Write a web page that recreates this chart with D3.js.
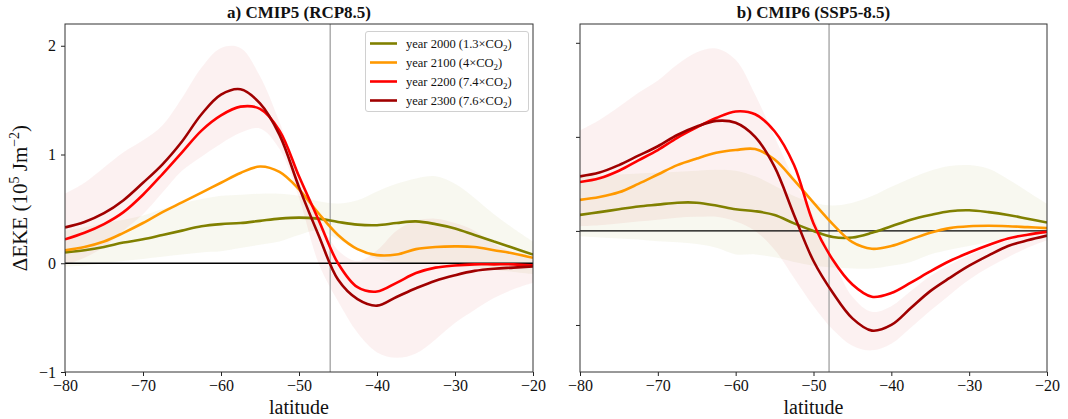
<!DOCTYPE html>
<html>
<head>
<meta charset="utf-8">
<script src="https://cdn.jsdelivr.net/npm/d3@7"></script>
<style>
  body { margin: 0; background: #fff; }
  svg { display: block; }
  text { font-family: "Liberation Serif", "DejaVu Serif", serif; fill: #111; }
</style>
</head>
<body>
<svg id="chart" width="1068" height="419"></svg>
<script>
// ---------------- DATA ----------------
const latitudes = [-80,-77.5,-75,-72.5,-70,-67.5,-65,-62.5,-60,-57.5,-55,-52.5,-50,-47.5,-45,-42.5,-40,-37.5,-35,-32.5,-30,-27.5,-25,-22.5,-20];

// Panel a) CMIP5 (RCP8.5)
const cmip5_y2000 = [0.10,0.12,0.15,0.19,0.22,0.26,0.30,0.34,0.36,0.37,0.39,0.41,0.42,0.41,0.38,0.355,0.35,0.37,0.385,0.36,0.32,0.26,0.20,0.14,0.08];
const cmip5_y2100 = [0.12,0.15,0.20,0.28,0.37,0.47,0.56,0.65,0.74,0.83,0.89,0.84,0.68,0.46,0.26,0.13,0.075,0.08,0.13,0.15,0.155,0.15,0.12,0.09,0.05];
const cmip5_y2200 = [0.22,0.28,0.36,0.47,0.63,0.82,1.02,1.22,1.36,1.44,1.42,1.22,0.80,0.40,0.0,-0.22,-0.26,-0.18,-0.09,-0.04,-0.02,-0.01,-0.01,-0.01,-0.02];
const cmip5_y2300 = [0.33,0.38,0.46,0.58,0.74,0.91,1.12,1.37,1.55,1.60,1.47,1.18,0.70,0.26,-0.15,-0.33,-0.39,-0.31,-0.23,-0.16,-0.11,-0.07,-0.05,-0.04,-0.03];
const cmip5_y2000_lo = [-0.03,-0.02,0.0,0.02,0.04,0.06,0.08,0.10,0.11,0.14,0.17,0.20,0.26,0.30,0.22,0.12,0.04,0.01,0.0,-0.01,-0.02,-0.04,-0.06,-0.08,-0.10];
const cmip5_y2000_hi = [0.30,0.33,0.37,0.40,0.44,0.50,0.55,0.59,0.62,0.63,0.64,0.64,0.62,0.57,0.55,0.58,0.66,0.73,0.78,0.80,0.73,0.60,0.45,0.32,0.20];
const cmip5_y2300_lo = [-0.02,0.05,0.15,0.30,0.45,0.65,0.85,0.98,1.10,1.20,1.24,1.05,0.60,0.0,-0.35,-0.64,-0.82,-0.87,-0.83,-0.70,-0.55,-0.43,-0.32,-0.24,-0.18];
const cmip5_y2300_hi = [0.64,0.74,0.88,1.02,1.13,1.27,1.52,1.80,1.98,1.98,1.72,1.30,0.80,0.42,0.12,0.02,0.12,0.30,0.39,0.41,0.37,0.30,0.18,0.10,0.05];

// Panel b) CMIP6 (SSP5-8.5)
const cmip6_y2000 = [0.17,0.20,0.23,0.26,0.28,0.30,0.30,0.27,0.23,0.21,0.17,0.08,0.0,-0.065,-0.07,-0.02,0.05,0.12,0.17,0.21,0.22,0.20,0.17,0.13,0.09];
const cmip6_y2100 = [0.33,0.36,0.41,0.50,0.60,0.70,0.77,0.83,0.86,0.87,0.76,0.54,0.30,0.07,-0.12,-0.19,-0.16,-0.09,-0.02,0.03,0.05,0.055,0.05,0.04,0.03];
const cmip6_y2200 = [0.52,0.56,0.64,0.75,0.86,0.99,1.10,1.20,1.27,1.24,1.06,0.70,0.08,-0.31,-0.57,-0.70,-0.66,-0.55,-0.43,-0.32,-0.23,-0.15,-0.08,-0.04,-0.01];
const cmip6_y2300 = [0.58,0.62,0.70,0.80,0.90,1.02,1.11,1.17,1.15,1.00,0.68,0.17,-0.32,-0.66,-0.93,-1.06,-1.00,-0.82,-0.64,-0.50,-0.37,-0.26,-0.16,-0.10,-0.05];
const cmip6_y2000_lo = [-0.06,-0.07,-0.08,-0.09,-0.11,-0.12,-0.14,-0.18,-0.25,-0.25,-0.28,-0.33,-0.37,-0.39,-0.40,-0.40,-0.37,-0.33,-0.25,-0.20,-0.16,-0.12,-0.09,-0.05,-0.03];
const cmip6_y2000_hi = [0.58,0.59,0.60,0.61,0.62,0.63,0.64,0.65,0.64,0.58,0.48,0.37,0.30,0.27,0.30,0.37,0.47,0.56,0.64,0.69,0.70,0.66,0.55,0.42,0.29];
const cmip6_y2300_lo = [0.05,0.06,0.08,0.10,0.12,0.14,0.15,0.15,0.10,0.0,-0.20,-0.50,-0.80,-1.05,-1.22,-1.27,-1.20,-1.03,-0.85,-0.68,-0.52,-0.39,-0.28,-0.18,-0.10];
const cmip6_y2300_hi = [1.07,1.18,1.32,1.47,1.60,1.77,1.90,1.94,1.82,1.45,1.00,0.55,0.15,-0.30,-0.70,-0.86,-0.80,-0.64,-0.48,-0.36,-0.26,-0.17,-0.10,-0.04,-0.01];

const xTicks = [-80,-70,-60,-50,-40,-30,-20];
const yTicks = [-1,0,1,2];
const seriesNames = ["year 2000", "year 2100", "year 2200", "year 2300"];
const co2Factors = ["1.3", "4", "7.4", "7.6"];
const seriesColors = ["#808000", "#ff9900", "#ff0000", "#a00000"];
const panelTitles = ["a) CMIP5 (RCP8.5)", "b) CMIP6 (SSP5-8.5)"];
const jetLatitudes = [-46, -48];

// ---------------- LAYOUT ----------------
const svg = d3.select("#chart");
const curve = d3.curveCatmullRom.alpha(0.5);
const panels = [
  { left: 65, right: 533, top: 24, bottom: 372, yDomain: [-1, 2.2], showYLabels: true,
    lines: [cmip5_y2000, cmip5_y2100, cmip5_y2200, cmip5_y2300],
    bands: [[cmip5_y2000_lo, cmip5_y2000_hi, "#808000", 0.06], [cmip5_y2300_lo, cmip5_y2300_hi, "#c00000", 0.055]],
    title: panelTitles[0], jet: jetLatitudes[0], legend: true },
  { left: 580, right: 1047, top: 24, bottom: 372, yDomain: [-1.5, 2.2], showYLabels: false,
    lines: [cmip6_y2000, cmip6_y2100, cmip6_y2200, cmip6_y2300],
    bands: [[cmip6_y2000_lo, cmip6_y2000_hi, "#808000", 0.06], [cmip6_y2300_lo, cmip6_y2300_hi, "#c00000", 0.055]],
    title: panelTitles[1], jet: jetLatitudes[1], legend: false }
];

panels.forEach((p, pi) => {
  const x = d3.scaleLinear().domain([-80, -20]).range([p.left, p.right]);
  const y = d3.scaleLinear().domain(p.yDomain).range([p.bottom, p.top]);
  const g = svg.append("g");
  const clipId = "clip" + pi;
  svg.append("clipPath").attr("id", clipId).append("rect")
    .attr("x", p.left).attr("y", p.top).attr("width", p.right - p.left).attr("height", p.bottom - p.top);
  const plot = g.append("g").attr("clip-path", `url(#${clipId})`);

  // bands
  p.bands.forEach(([lo, hi, col, op]) => {
    const area = d3.area()
      .x((d, i) => x(latitudes[i]))
      .y0((d, i) => y(lo[i]))
      .y1((d, i) => y(hi[i]))
      .curve(curve);
    plot.append("path").datum(lo).attr("d", area).attr("fill", col).attr("fill-opacity", op);
  });

  // jet position vertical line
  plot.append("line").attr("x1", x(p.jet)).attr("x2", x(p.jet))
    .attr("y1", p.top).attr("y2", p.bottom).attr("stroke", "#a8a8a8").attr("stroke-width", 1.4);
  // zero line
  plot.append("line").attr("x1", p.left).attr("x2", p.right)
    .attr("y1", y(0)).attr("y2", y(0)).attr("stroke", "#000").attr("stroke-width", 1.3);

  // lines
  p.lines.forEach((vals, si) => {
    const line = d3.line().x((d, i) => x(latitudes[i])).y(d => y(d)).curve(curve);
    plot.append("path").datum(vals).attr("d", line).attr("fill", "none")
      .attr("stroke", seriesColors[si]).attr("stroke-width", 2.6).attr("stroke-linejoin", "round");
  });

  // axes
  const xAxis = d3.axisBottom(x).tickValues(xTicks).tickSize(4).tickPadding(4)
    .tickFormat(d => d3.format("d")(d).replace("-", "\u2212"));
  const gx = g.append("g").attr("transform", `translate(0,${p.bottom})`).call(xAxis);
  gx.select(".domain").remove();
  gx.selectAll("line").attr("stroke", "#222").attr("stroke-width", 1);
  gx.selectAll("text").attr("font-size", 16).attr("fill", "#111").style("font-family", '"Liberation Serif", serif');

  const yAxis = d3.axisLeft(y).tickValues(yTicks).tickSize(4).tickPadding(5)
    .tickFormat(p.showYLabels ? (d => d3.format("d")(d).replace("-", "\u2212")) : (() => ""));
  const gy = g.append("g").attr("transform", `translate(${p.left},0)`).call(yAxis);
  gy.select(".domain").remove();
  gy.selectAll("line").attr("stroke", "#222").attr("stroke-width", 1);
  gy.selectAll("text").attr("font-size", 16).attr("fill", "#111").style("font-family", '"Liberation Serif", serif');

  // frame
  g.append("rect").attr("x", p.left).attr("y", p.top).attr("width", p.right - p.left).attr("height", p.bottom - p.top)
    .attr("fill", "none").attr("stroke", "#333").attr("stroke-width", 1);

  // title
  g.append("text").attr("x", (p.left + p.right) / 2).attr("y", 18)
    .attr("text-anchor", "middle").attr("font-size", 17).attr("font-weight", "bold").text(p.title);

  // x label
  g.append("text").attr("x", (p.left + p.right) / 2).attr("y", 414)
    .attr("text-anchor", "middle").attr("font-size", 20).text("latitude");

  // legend
  if (p.legend) {
    const lg = g.append("g");
    lg.append("rect").attr("x", 365.5).attr("y", 31.5).attr("width", 163).attr("height", 80)
      .attr("rx", 2.5).attr("fill", "#fff").attr("fill-opacity", 0.85).attr("stroke", "#d0d0d0").attr("stroke-width", 1);
    seriesNames.forEach((name, si) => {
      const yy = 43.5 + si * 19;
      lg.append("line").attr("x1", 370).attr("x2", 397).attr("y1", yy).attr("y2", yy)
        .attr("stroke", seriesColors[si]).attr("stroke-width", 2.6);
      const t = lg.append("text").attr("x", 406).attr("y", yy + 4).attr("font-size", 12.5);
      t.append("tspan").text(`${name} (${co2Factors[si]}\u00d7CO`);
      t.append("tspan").attr("font-size", 9).attr("dy", 3).text("2");
      t.append("tspan").attr("dy", -3).text(")");
    });
  }
});

// y-axis label
const yl = svg.append("text").attr("transform", "translate(27,198) rotate(-90)")
  .attr("text-anchor", "middle").attr("font-size", 21);
yl.append("tspan").text("\u0394EKE (10");
yl.append("tspan").attr("font-size", 14).attr("dy", -8).text("5");
yl.append("tspan").attr("dy", 8).text(" Jm");
yl.append("tspan").attr("font-size", 14).attr("dy", -8).text("\u22122");
yl.append("tspan").attr("dy", 8).text(")");
</script>
</body>
</html>
